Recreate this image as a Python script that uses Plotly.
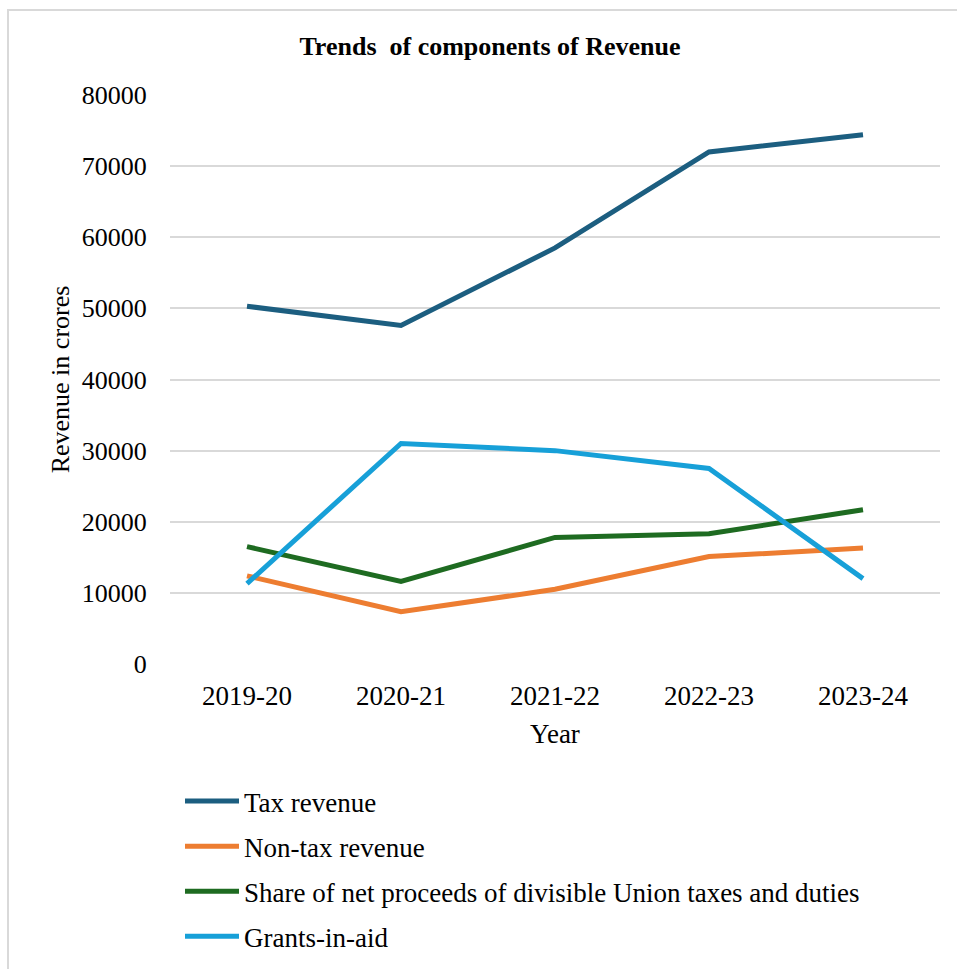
import plotly.graph_objects as go

years = ["2019-20", "2020-21", "2021-22", "2022-23", "2023-24"]
tax_revenue = [50300, 47600, 58500, 72000, 74400]
non_tax_revenue = [12400, 7350, 10500, 15100, 16300]
union_share = [16500, 11600, 17800, 18300, 21700]
grants_in_aid = [11300, 31000, 30000, 27500, 12000]

series_names = ["Tax revenue", "Non-tax revenue",
                "Share of net proceeds of divisible Union taxes and duties",
                "Grants-in-aid"]
series_values = [tax_revenue, non_tax_revenue, union_share, grants_in_aid]
series_colors = ["#1C5E80", "#ED7D31", "#1E6B21", "#17A0D8"]

y_ticks = [0, 10000, 20000, 30000, 40000, 50000, 60000, 70000, 80000]

FONT = "Liberation Serif, Times New Roman, serif"

fig = go.Figure()
for name, vals, col in zip(series_names, series_values, series_colors):
    fig.add_trace(go.Scatter(x=years, y=vals, mode="lines", name=name,
                             legendgroup=name,
                             line=dict(color=col, width=5)))

W, H = 957, 969
L, R, T, B = 170, 17, 95, 305
pw, ph = W - L - R, H - T - B

def px(x):
    return (x - L) / pw

def py(y):
    return (H - B - y) / ph

fig.update_layout(
    width=W, height=H,
    margin=dict(l=L, r=R, t=T, b=B, autoexpand=False),
    paper_bgcolor="white", plot_bgcolor="white",
    font=dict(family=FONT, size=26, color="#000000"),
    title=dict(text="<b>Trends  of components of Revenue</b>",
               x=490 / W, xref="container", xanchor="center",
               y=1 - 46 / H, yref="container", yanchor="middle",
               font=dict(family=FONT, size=26, color="#000000")),
    showlegend=True,
    legend=dict(x=px(180), xanchor="left", y=py(777), yanchor="top",
                orientation="v", tracegroupgap=7, itemwidth=54,
                font=dict(family=FONT, size=27, color="#000000"),
                bgcolor="rgba(0,0,0,0)"),
    xaxis=dict(type="category", range=[-0.5, 4.5], automargin=False,
               showgrid=False, zeroline=False,
               showline=False, ticks="outside", ticklen=8,
               tickcolor="rgba(0,0,0,0)",
               tickfont=dict(family=FONT, size=27, color="#000000"),
               title=dict(text="Year", standoff=13,
                          font=dict(family=FONT, size=27, color="#000000"))),
    yaxis=dict(range=[0, 80000], tickvals=y_ticks, automargin=False,
               ticktext=[str(v) for v in y_ticks],
               showgrid=True, gridcolor="#D9D9D9", gridwidth=1.5,
               zeroline=False, showline=False,
               ticks="outside", ticklen=17, tickcolor="rgba(0,0,0,0)",
               tickfont=dict(family=FONT, size=26, color="#000000"),
               title=dict(text="Revenue in crores", standoff=4,
                          font=dict(family=FONT, size=26, color="#000000"))),
    shapes=[dict(type="rect", xref="paper", yref="paper",
                 x0=px(8), x1=px(990), y0=py(10), y1=py(1000),
                 line=dict(color="#D9D9D9", width=2), layer="below")],
)

fig.write_html("out.html", config={"displayModeBar": False},
               post_script="document.body.style.margin='0';")
